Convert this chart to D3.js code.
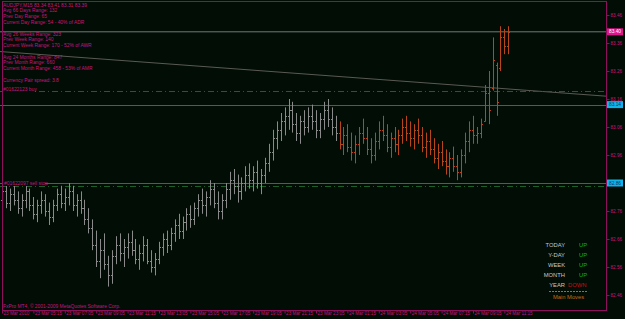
<!DOCTYPE html>
<html>
<head>
<meta charset="utf-8">
<script src="https://cdn.jsdelivr.net/npm/d3@7"></script>
<style>
  html, body { margin: 0; padding: 0; background: #020d06; overflow: hidden; }
  svg { display: block; font-family: "Liberation Sans", Arial, sans-serif; }
</style>
</head>
<body>
<div id="chart"></div>
<script>
// AUDJPY M15 bars, 23-24 Mar 2010
const opens  = [82.80,82.83,82.79,82.82,82.80,82.77,82.80,82.83,82.78,82.75,82.78,82.80,82.76,82.74,82.78,82.82,82.79,82.81,82.83,82.78,
                82.80,82.77,82.73,82.70,82.64,82.58,82.62,82.57,82.53,82.60,82.64,82.61,82.63,82.65,82.62,82.59,82.61,82.64,82.58,82.56,
                82.59,82.63,82.66,82.64,82.68,82.71,82.69,82.72,82.75,82.73,82.77,82.80,82.78,82.81,82.84,82.79,82.76,82.80,82.84,82.87,
                82.85,82.83,82.86,82.89,82.87,82.90,82.86,82.89,82.93,82.97,83.02,83.05,83.08,83.10,83.12,83.07,83.04,83.08,83.06,83.10,
                83.08,83.05,83.09,83.12,83.09,83.06,83.04,83.00,83.03,82.99,82.97,83.00,83.04,83.02,82.98,82.96,83.01,83.05,83.03,82.99,
                83.02,83.00,83.03,83.06,83.04,83.02,83.05,83.03,82.99,83.01,82.98,82.95,82.97,82.94,82.92,82.95,82.92,82.90,82.96,83.01,
                83.05,83.03,83.04,83.08,83.18,83.20,83.28,83.27,83.38,83.35];
const highs  = [82.86,82.85,82.84,82.86,82.83,82.82,82.85,82.84,82.81,82.80,82.83,82.82,82.79,82.80,82.84,82.85,82.84,82.86,82.85,82.82,
                82.83,82.80,82.77,82.73,82.69,82.66,82.68,82.60,82.62,82.67,82.68,82.66,82.68,82.69,82.66,82.64,82.67,82.66,82.62,82.61,
                82.65,82.68,82.69,82.70,82.73,82.75,82.74,82.77,82.78,82.79,82.82,82.84,82.83,82.87,82.86,82.83,82.82,82.86,82.90,82.91,
                82.89,82.88,82.92,82.93,82.92,82.94,82.91,82.95,83.00,83.05,83.08,83.11,83.13,83.16,83.15,83.11,83.10,83.12,83.13,83.14,
                83.12,83.11,83.15,83.16,83.13,83.10,83.08,83.06,83.07,83.04,83.03,83.06,83.09,83.06,83.02,83.04,83.08,83.10,83.07,83.04,
                83.06,83.05,83.09,83.10,83.08,83.07,83.09,83.06,83.04,83.05,83.02,83.00,83.01,82.98,82.97,82.99,82.96,82.98,83.04,83.08,
                83.10,83.06,83.09,83.21,83.26,83.38,83.29,83.42,83.41,83.42];
const lows   = [82.75,82.77,82.76,82.78,82.75,82.74,82.77,82.76,82.73,82.72,82.75,82.74,82.71,82.72,82.76,82.77,82.76,82.78,82.76,82.74,
                82.75,82.71,82.68,82.62,82.56,82.52,82.55,82.49,82.50,82.57,82.58,82.56,82.59,82.60,82.57,82.55,82.58,82.57,82.54,82.53,
                82.57,82.60,82.61,82.62,82.65,82.66,82.66,82.69,82.70,82.71,82.74,82.75,82.74,82.78,82.77,82.73,82.73,82.77,82.80,82.82,
                82.79,82.80,82.83,82.84,82.83,82.84,82.82,82.86,82.90,82.94,82.98,83.01,83.03,83.05,83.04,83.01,83.00,83.03,83.04,83.05,
                83.02,83.02,83.05,83.06,83.03,83.01,82.98,82.96,82.97,82.94,82.93,82.96,83.00,82.96,82.93,82.94,82.98,83.01,82.97,82.95,
                82.97,82.96,83.00,83.01,82.99,82.98,83.00,82.97,82.95,82.96,82.93,82.91,82.92,82.89,82.88,82.90,82.87,82.88,82.93,82.97,
                83.00,83.00,83.02,83.08,83.07,83.19,83.10,83.26,83.32,83.32];
const closes = [82.83,82.79,82.82,82.80,82.77,82.80,82.83,82.78,82.75,82.78,82.80,82.76,82.74,82.78,82.82,82.79,82.81,82.83,82.78,82.80,
                82.77,82.73,82.70,82.64,82.58,82.62,82.57,82.53,82.60,82.64,82.61,82.63,82.65,82.62,82.59,82.61,82.64,82.58,82.56,82.59,
                82.63,82.66,82.64,82.68,82.71,82.69,82.72,82.75,82.73,82.77,82.80,82.78,82.81,82.84,82.79,82.76,82.80,82.84,82.87,82.85,
                82.83,82.86,82.89,82.87,82.90,82.86,82.89,82.93,82.97,83.02,83.05,83.08,83.10,83.12,83.07,83.04,83.08,83.06,83.10,83.08,
                83.05,83.09,83.12,83.09,83.06,83.04,83.00,83.03,82.99,82.97,83.00,83.04,83.02,82.98,82.96,83.01,83.05,83.03,82.99,83.02,
                83.00,83.03,83.06,83.04,83.02,83.05,83.03,82.99,83.01,82.98,82.95,82.97,82.94,82.92,82.95,82.92,82.90,82.96,83.01,83.05,
                83.03,83.04,83.07,83.18,83.12,83.30,83.15,83.38,83.35,83.40];
const sessionStart = 86; // bars from here are drawn in the session colour

const timeLabels = ['23 Mar 2010','23 Mar 05:15','23 Mar 07:05','23 Mar 09:05','23 Mar 11:15','23 Mar 13:05',
                    '23 Mar 15:05','23 Mar 17:05','23 Mar 19:05','23 Mar 21:15','23 Mar 23:05','24 Mar 01:15',
                    '24 Mar 03:05','24 Mar 05:05','24 Mar 07:15','24 Mar 09:05','24 Mar 11:15'];
const priceTicks = [82.46,82.56,82.66,82.76,82.86,82.96,83.06,83.16,83.26,83.36,83.46];

const bidPrice = 83.40;
const orderLevels = [83.14, 82.86];       // buy, sell stop
const stopLevels = [83.19, 82.85];        // dashed green SL/TP
const trendPts = [{ i: -1, p: 83.33 }, { i: 154, p: 83.17 }];

const infoLines = ['AUDJPY,M15  83.34 83.41 83.31 83.39',
  'Avg 66 Days Range: 132', 'Prev Day Range: 65', 'Current Day Range: 54 - 40% of ADR',
  'Avg 26 Weeks Range: 323', 'Prev Week Range: 140', 'Current Week Range: 170 - 52% of AWR',
  'Avg 24 Months Range: 847', 'Prev Month Range: 660', 'Current Month Range: 458 - 53% of AMR',
  'Currency Pair spread: 3.8', '#01622123 buy'];
const moveNames = ['TODAY','Y-DAY','WEEK','MONTH','YEAR'];
const moveDirs  = ['UP','UP','UP','UP','DOWN'];

const BG = '#020d06', FRAME = '#8e0f5c', TXT = '#c8157c';
const GREY = '#8a8a8a', ORANGE = '#b8461a';

const width = 625, height = 319;
const svg = d3.select('#chart').append('svg').attr('width', width).attr('height', height);
svg.append('rect').attr('width', width).attr('height', height).attr('fill', BG);

const x = d3.scaleLinear().domain([0, 128]).range([2, 504.4]);
const y = d3.scaleLinear().domain([82.46, 83.46]).range([295, 15]);
const plotL = 2, plotR = 606, plotT = 1, plotB = 310;

// horizontal lines
svg.append('line').attr('x1', 0).attr('x2', plotR).attr('y1', y(bidPrice)).attr('y2', y(bidPrice))
  .attr('stroke', '#6e7a78').attr('stroke-width', 1);
svg.append('line').attr('x1', x(trendPts[0].i)).attr('x2', x(trendPts[1].i))
  .attr('y1', y(trendPts[0].p)).attr('y2', y(trendPts[1].p))
  .attr('stroke', '#5a5a52').attr('stroke-width', 1);
svg.selectAll('.stop').data(stopLevels).join('line')
  .attr('x1', 0).attr('x2', plotR).attr('y1', d => Math.round(y(d)) + 0.5).attr('y2', d => Math.round(y(d)) + 0.5)
  .attr('stroke', '#1d5f2a').attr('stroke-width', 1).attr('stroke-dasharray', '6,3,1,3');
svg.selectAll('.ord').data(orderLevels).join('line')
  .attr('x1', 0).attr('x2', plotR).attr('y1', d => Math.round(y(d)) + 0.5).attr('y2', d => Math.round(y(d)) + 0.5)
  .attr('stroke', '#1b6d8c').attr('stroke-width', 1.2);

// OHLC bars
const bars = svg.append('g').selectAll('g').data(d3.range(highs.length)).join('g')
  .attr('stroke', i => i >= sessionStart ? ORANGE : GREY).attr('stroke-width', 1);
bars.append('line').attr('x1', i => Math.round(x(i)) + 0.5).attr('x2', i => Math.round(x(i)) + 0.5)
  .attr('y1', i => y(highs[i])).attr('y2', i => y(lows[i]));
bars.append('line').attr('x1', i => Math.round(x(i)) - 1).attr('x2', i => Math.round(x(i)) + 0.5)
  .attr('y1', i => Math.round(y(opens[i])) + 0.5).attr('y2', i => Math.round(y(opens[i])) + 0.5);
bars.append('line').attr('x1', i => Math.round(x(i)) + 0.5).attr('x2', i => Math.round(x(i)) + 2)
  .attr('y1', i => Math.round(y(closes[i])) + 0.5).attr('y2', i => Math.round(y(closes[i])) + 0.5);

// info text
const infoY = [5, 10.5, 16, 22, 34, 39.5, 45, 57, 62.5, 68, 80, 89];
const info = svg.append('g').attr('font-size', 4.9).attr('fill', TXT);
infoLines.forEach((t, k) => {
  if (k === infoLines.length - 1) {
    info.append('rect').attr('x', 2).attr('y', infoY[k] - 3).attr('width', 31).attr('height', 6).attr('fill', BG);
  }
  info.append('text').attr('x', 3).attr('y', infoY[k]).attr('dy', '0.35em').text(t);
});
svg.append('rect').attr('x', 3).attr('y', y(orderLevels[1]) - 3).attr('width', 42).attr('height', 6).attr('fill', BG);
svg.append('text').attr('x', 4).attr('y', y(orderLevels[1])).attr('dy', '0.35em')
  .attr('font-size', 4.9).attr('fill', TXT).text('#01622097 sell stop');
svg.append('text').attr('x', 3).attr('y', 306).attr('dy', '0.35em')
  .attr('font-size', 4.9).attr('fill', TXT).text('FxPro MT4, \u00a9 2001-2009 MetaQuotes Software Corp.');

// frame
svg.append('rect').attr('x', plotL + 0.5).attr('y', plotT + 0.5).attr('width', plotR - plotL).attr('height', plotB - plotT)
  .attr('fill', 'none').attr('stroke', FRAME).attr('stroke-width', 1);

// right price axis
const yAxis = svg.append('g').attr('transform', `translate(${plotR + 0.5},0)`)
  .call(d3.axisRight(y).tickValues(priceTicks).tickSize(3).tickPadding(1).tickFormat(d3.format('.2f')));
yAxis.select('.domain').remove();
yAxis.selectAll('line').attr('stroke', FRAME);
yAxis.selectAll('text').attr('fill', TXT).attr('font-size', 4.6).attr('font-family', '"Liberation Sans", Arial, sans-serif');

function priceBox(p, fill, color) {
  const g = svg.append('g').attr('transform', `translate(607,${y(p)})`);
  g.append('rect').attr('x', 0).attr('y', -3.5).attr('width', 16).attr('height', 7).attr('fill', fill);
  g.append('text').attr('x', 2).attr('dy', '0.35em').attr('font-size', 4.8).attr('fill', color).text(p.toFixed(2));
}
priceBox(bidPrice, '#e0148c', '#ffffff');
orderLevels.forEach(p => priceBox(p, '#0fb4e8', '#10306a'));

// bottom time axis
const xAxis = svg.append('g').attr('transform', `translate(0,${plotB + 0.5})`)
  .call(d3.axisBottom(x).tickValues(timeLabels.map((_, k) => k * 8)).tickSize(3)
    .tickFormat((d, k) => timeLabels[k]));
xAxis.select('.domain').remove();
xAxis.selectAll('line').attr('stroke', FRAME);
xAxis.selectAll('text').attr('fill', TXT).attr('font-size', 4.6).attr('text-anchor', 'start')
  .attr('x', 1).attr('y', 1.5).attr('dy', '0.71em').attr('font-family', '"Liberation Sans", Arial, sans-serif');

// main moves legend
const legend = svg.append('g').attr('font-size', 5.8);
moveNames.forEach((n, k) => {
  const ly = 244.5 + k * 10;
  legend.append('text').attr('x', 565).attr('y', ly).attr('dy', '0.35em').attr('text-anchor', 'end')
    .attr('fill', '#c8c8c8').text(n);
  const up = moveDirs[k] === 'UP';
  legend.append('text').attr('x', up ? 579 : 568).attr('y', ly).attr('dy', '0.35em')
    .attr('fill', up ? '#10b810' : '#c81010').text(moveDirs[k]);
});
legend.append('line').attr('x1', 549).attr('x2', 588).attr('y1', 291.5).attr('y2', 291.5)
  .attr('stroke', '#c06010').attr('stroke-dasharray', '2,1');
legend.append('text').attr('x', 568.5).attr('y', 297).attr('dy', '0.35em').attr('text-anchor', 'middle')
  .attr('fill', '#c86a10').text('Main Moves');
</script>
</body>
</html>
